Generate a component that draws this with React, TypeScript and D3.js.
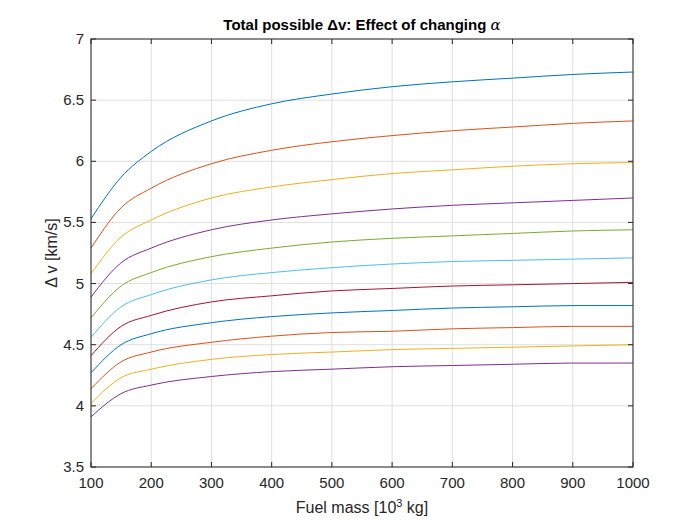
import React from "react";
import * as d3 from "d3";

const fuel = [100, 150, 200, 300, 400, 500, 600, 700, 800, 900, 1000];
const series: number[][] = [
  [5.53, 5.87, 6.08, 6.33, 6.47, 6.55, 6.61, 6.65, 6.68, 6.71, 6.73],
  [5.29, 5.62, 5.78, 5.98, 6.09, 6.16, 6.21, 6.25, 6.28, 6.31, 6.33],
  [5.08, 5.38, 5.52, 5.7, 5.79, 5.85, 5.9, 5.93, 5.96, 5.98, 5.99],
  [4.89, 5.17, 5.29, 5.44, 5.52, 5.57, 5.61, 5.64, 5.66, 5.68, 5.7],
  [4.72, 4.98, 5.09, 5.22, 5.29, 5.34, 5.37, 5.39, 5.41, 5.43, 5.44],
  [4.56, 4.81, 4.91, 5.03, 5.09, 5.13, 5.16, 5.18, 5.19, 5.2, 5.21],
  [4.41, 4.65, 4.74, 4.85, 4.9, 4.94, 4.96, 4.98, 4.99, 5.0, 5.01],
  [4.27, 4.5, 4.59, 4.68, 4.73, 4.76, 4.78, 4.8, 4.81, 4.82, 4.82],
  [4.14, 4.36, 4.44, 4.52, 4.57, 4.6, 4.61, 4.63, 4.64, 4.65, 4.65],
  [4.02, 4.23, 4.3, 4.38, 4.42, 4.44, 4.46, 4.47, 4.48, 4.49, 4.5],
  [3.91, 4.1, 4.17, 4.24, 4.28, 4.3, 4.32, 4.33, 4.34, 4.35, 4.35],
];
const colors = ["#0072BD", "#D95319", "#EDB120", "#7E2F8E", "#77AC30", "#4DBEEE", "#A2142F"];
const xTicks = [100, 200, 300, 400, 500, 600, 700, 800, 900, 1000];
const yTicks = [3.5, 4, 4.5, 5, 5.5, 6, 6.5, 7];

export default function App() {
  const L = 91, R = 633, T = 39, B = 467;
  const x = d3.scaleLinear().domain([100, 1000]).range([L, R]);
  const y = d3.scaleLinear().domain([3.5, 7]).range([B, T]);
  const line = d3.line<number>().x((_, i) => x(fuel[i])).y((d) => y(d)).curve(d3.curveMonotoneX);
  const font = "'Liberation Sans', Arial, sans-serif";
  return (
    <svg width={700} height={525} style={{ position: "absolute", left: 0, top: 0, background: "#fff" }} fontFamily={font}>
      <rect x={L} y={T} width={R - L} height={B - T} fill="#fff" />
      {xTicks.map((t) => (
        <line key={"gx" + t} x1={x(t)} x2={x(t)} y1={T} y2={B} stroke="#dfdfdf" strokeWidth={1} />
      ))}
      {yTicks.map((t) => (
        <line key={"gy" + t} x1={L} x2={R} y1={y(t)} y2={y(t)} stroke="#dfdfdf" strokeWidth={1} />
      ))}
      {series.map((s, i) => (
        <path key={i} d={line(s) || ""} fill="none" stroke={colors[i % colors.length]} strokeWidth={1} />
      ))}
      <rect x={L} y={T} width={R - L} height={B - T} fill="none" stroke="#262626" strokeWidth={1} />
      {xTicks.map((t) => (
        <g key={"tx" + t}>
          <line x1={x(t)} x2={x(t)} y1={B} y2={B - 5} stroke="#262626" />
          <line x1={x(t)} x2={x(t)} y1={T} y2={T + 5} stroke="#262626" />
          <text x={x(t)} y={B + 21} textAnchor="middle" fontSize={15} fill="#262626">{t}</text>
        </g>
      ))}
      {yTicks.map((t) => (
        <g key={"ty" + t}>
          <line x1={L} x2={L + 5} y1={y(t)} y2={y(t)} stroke="#262626" />
          <line x1={R} x2={R - 5} y1={y(t)} y2={y(t)} stroke="#262626" />
          <text x={L - 7} y={y(t) + 5} textAnchor="end" fontSize={15} fill="#262626">{t}</text>
        </g>
      ))}
      <text x={(L + R) / 2} y={30} textAnchor="middle" fontSize={15} fontWeight="bold" fill="#000">
        Total possible Δv: Effect of changing <tspan fontStyle="italic" fontFamily="'DejaVu Serif', serif" fontWeight="normal">α</tspan>
      </text>
      <text x={(L + R) / 2} y={B + 46} textAnchor="middle" fontSize={16} fill="#262626">
        Fuel mass [10<tspan dy={-6} fontSize={11}>3</tspan><tspan dy={6}> kg]</tspan>
      </text>
      <text transform={`translate(57,${(T + B) / 2}) rotate(-90)`} textAnchor="middle" fontSize={16} fill="#262626">
        Δ v [km/s]
      </text>
    </svg>
  );
}
